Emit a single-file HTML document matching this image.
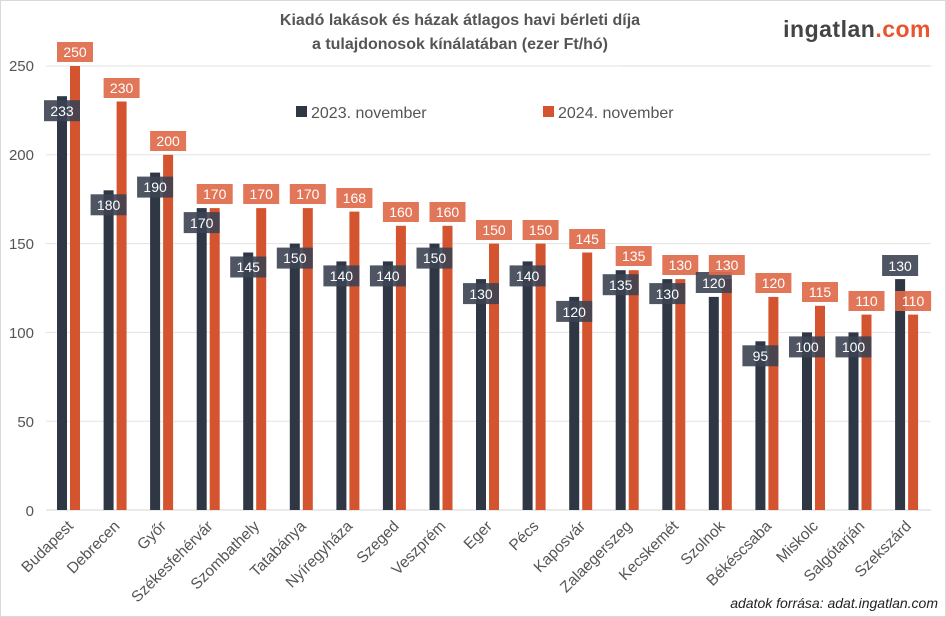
<!DOCTYPE html>
<html><head><meta charset="utf-8"><style>
html,body{margin:0;padding:0;background:#fff}
svg{display:block;font-family:"Liberation Sans",sans-serif}
</style></head><body>
<svg width="946" height="617" viewBox="0 0 946 617" xmlns="http://www.w3.org/2000/svg">
<rect x="0.5" y="0.5" width="945" height="616" fill="#fff" stroke="#d9d9d9"/>
<g stroke="#e3e3e3" stroke-width="1">
<line x1="46" x2="931" y1="66" y2="66"/><line x1="46" x2="931" y1="154.8" y2="154.8"/>
<line x1="46" x2="931" y1="243.6" y2="243.6"/><line x1="46" x2="931" y1="332.4" y2="332.4"/>
<line x1="46" x2="931" y1="421.2" y2="421.2"/><line x1="46" x2="931" y1="510" y2="510" stroke-width="1.5"/>
</g>
<g font-size="15" fill="#555" text-anchor="end">
<text x="34" y="71">250</text><text x="34" y="160">200</text><text x="34" y="249">150</text>
<text x="34" y="338">100</text><text x="34" y="427">50</text><text x="34" y="516">0</text>
</g>
<text x="460" y="25" font-size="16" font-weight="bold" fill="#555" text-anchor="middle">Kiadó lakások és házak átlagos havi bérleti díja</text>
<text x="460" y="49" font-size="16" font-weight="bold" fill="#555" text-anchor="middle">a tulajdonosok kínálatában (ezer Ft/hó)</text>
<text x="931" y="37" font-size="23" font-weight="bold" fill="#444" text-anchor="end" letter-spacing="0.5">ingatlan<tspan fill="#e8552f">.com</tspan></text>
<line x1="620" x2="931" y1="66" y2="66" stroke="#ddd"/>
<rect x="296" y="106" width="11" height="11" fill="#2f3644"/>
<text x="311" y="118" font-size="16" fill="#555">2023. november</text>
<rect x="543" y="106" width="11" height="11" fill="#d55430"/>
<text x="558" y="118" font-size="16" fill="#555">2024. november</text>
<text x="938" y="608" font-size="14" font-style="italic" fill="#222" text-anchor="end">adatok forrása: adat.ingatlan.com</text>

<defs><style>
.d{fill:#2f3644}.o{fill:#d55430}
.db{fill:#3c4252;fill-opacity:.9}.ob{fill:#e06a4a;fill-opacity:.92}
.lt{fill:#fff;font-size:14px;text-anchor:middle}
.cat{fill:#555;font-size:15.5px;text-anchor:end}
</style></defs>

<g transform="translate(62,0)"><rect class="d" x="-5" y="96.2" width="10" height="413.8"/><rect class="o" x="8" y="66" width="10" height="444"/>
<rect class="db" x="-18" y="100.2" width="36" height="21"/><text class="lt" x="0" y="116">233</text>
<rect class="ob" x="-5" y="42" width="36" height="20"/><text class="lt" x="13" y="57">250</text></g>

<g transform="translate(108.6,0)"><rect class="d" x="-5" y="190.3" width="10" height="319.7"/><rect class="o" x="8" y="101.5" width="10" height="408.5"/>
<rect class="db" x="-18" y="194.3" width="36" height="21"/><text class="lt" x="0" y="210">180</text>
<rect class="ob" x="-5" y="78" width="36" height="20"/><text class="lt" x="13" y="93">230</text></g>

<g transform="translate(155.1,0)"><rect class="d" x="-5" y="172.6" width="10" height="337.4"/><rect class="o" x="8" y="154.8" width="10" height="355.2"/>
<rect class="db" x="-18" y="176.6" width="36" height="21"/><text class="lt" x="0" y="192">190</text>
<rect class="ob" x="-5" y="131" width="36" height="20"/><text class="lt" x="13" y="146">200</text></g>

<g transform="translate(201.7,0)"><rect class="d" x="-5" y="208.1" width="10" height="301.9"/><rect class="o" x="8" y="208.1" width="10" height="301.9"/>
<rect class="db" x="-18" y="212.1" width="36" height="21"/><text class="lt" x="0" y="228">170</text>
<rect class="ob" x="-5" y="184" width="36" height="20"/><text class="lt" x="13" y="199">170</text></g>

<g transform="translate(248.2,0)"><rect class="d" x="-5" y="252.5" width="10" height="257.5"/><rect class="o" x="8" y="208.1" width="10" height="301.9"/>
<rect class="db" x="-18" y="256.5" width="36" height="21"/><text class="lt" x="0" y="272">145</text>
<rect class="ob" x="-5" y="184" width="36" height="20"/><text class="lt" x="13" y="199">170</text></g>

<g transform="translate(294.8,0)"><rect class="d" x="-5" y="243.6" width="10" height="266.4"/><rect class="o" x="8" y="208.1" width="10" height="301.9"/>
<rect class="db" x="-18" y="247.6" width="36" height="21"/><text class="lt" x="0" y="263">150</text>
<rect class="ob" x="-5" y="184" width="36" height="20"/><text class="lt" x="13" y="199">170</text></g>

<g transform="translate(341.4,0)"><rect class="d" x="-5" y="261.4" width="10" height="248.6"/><rect class="o" x="8" y="211.6" width="10" height="298.4"/>
<rect class="db" x="-18" y="265.4" width="36" height="21"/><text class="lt" x="0" y="281">140</text>
<rect class="ob" x="-5" y="188" width="36" height="20"/><text class="lt" x="13" y="203">168</text></g>

<g transform="translate(387.9,0)"><rect class="d" x="-5" y="261.4" width="10" height="248.6"/><rect class="o" x="8" y="225.8" width="10" height="284.2"/>
<rect class="db" x="-18" y="265.4" width="36" height="21"/><text class="lt" x="0" y="281">140</text>
<rect class="ob" x="-5" y="202" width="36" height="20"/><text class="lt" x="13" y="217">160</text></g>

<g transform="translate(434.5,0)"><rect class="d" x="-5" y="243.6" width="10" height="266.4"/><rect class="o" x="8" y="225.8" width="10" height="284.2"/>
<rect class="db" x="-18" y="247.6" width="36" height="21"/><text class="lt" x="0" y="263">150</text>
<rect class="ob" x="-5" y="202" width="36" height="20"/><text class="lt" x="13" y="217">160</text></g>

<g transform="translate(481,0)"><rect class="d" x="-5" y="279.1" width="10" height="230.9"/><rect class="o" x="8" y="243.6" width="10" height="266.4"/>
<rect class="db" x="-18" y="283.1" width="36" height="21"/><text class="lt" x="0" y="299">130</text>
<rect class="ob" x="-5" y="220" width="36" height="20"/><text class="lt" x="13" y="235">150</text></g>

<g transform="translate(527.6,0)"><rect class="d" x="-5" y="261.4" width="10" height="248.6"/><rect class="o" x="8" y="243.6" width="10" height="266.4"/>
<rect class="db" x="-18" y="265.4" width="36" height="21"/><text class="lt" x="0" y="281">140</text>
<rect class="ob" x="-5" y="220" width="36" height="20"/><text class="lt" x="13" y="235">150</text></g>

<g transform="translate(574.2,0)"><rect class="d" x="-5" y="296.9" width="10" height="213.1"/><rect class="o" x="8" y="252.5" width="10" height="257.5"/>
<rect class="db" x="-18" y="300.9" width="36" height="21"/><text class="lt" x="0" y="317">120</text>
<rect class="ob" x="-5" y="229" width="36" height="20"/><text class="lt" x="13" y="244">145</text></g>

<g transform="translate(620.7,0)"><rect class="d" x="-5" y="270.2" width="10" height="239.8"/><rect class="o" x="8" y="270.2" width="10" height="239.8"/>
<rect class="db" x="-18" y="274.2" width="36" height="21"/><text class="lt" x="0" y="290">135</text>
<rect class="ob" x="-5" y="246" width="36" height="20"/><text class="lt" x="13" y="261">135</text></g>

<g transform="translate(667.3,0)"><rect class="d" x="-5" y="279.1" width="10" height="230.9"/><rect class="o" x="8" y="279.1" width="10" height="230.9"/>
<rect class="db" x="-18" y="283.1" width="36" height="21"/><text class="lt" x="0" y="299">130</text>
<rect class="ob" x="-5" y="255" width="36" height="20"/><text class="lt" x="13" y="270">130</text></g>

<g transform="translate(713.8,0)"><rect class="d" x="-5" y="296.9" width="10" height="213.1"/><rect class="o" x="8" y="279.1" width="10" height="230.9"/>
<rect class="db" x="-18" y="272" width="36" height="21"/><text class="lt" x="0" y="288">120</text>
<rect class="ob" x="-5" y="255" width="36" height="20"/><text class="lt" x="13" y="270">130</text></g>

<g transform="translate(760.4,0)"><rect class="d" x="-5" y="341.3" width="10" height="168.7"/><rect class="o" x="8" y="296.9" width="10" height="213.1"/>
<rect class="db" x="-18" y="345.3" width="36" height="21"/><text class="lt" x="0" y="361">95</text>
<rect class="ob" x="-5" y="273" width="36" height="20"/><text class="lt" x="13" y="288">120</text></g>

<g transform="translate(807,0)"><rect class="d" x="-5" y="332.4" width="10" height="177.6"/><rect class="o" x="8" y="305.8" width="10" height="204.2"/>
<rect class="db" x="-18" y="336.4" width="36" height="21"/><text class="lt" x="0" y="352">100</text>
<rect class="ob" x="-5" y="282" width="36" height="20"/><text class="lt" x="13" y="297">115</text></g>

<g transform="translate(853.5,0)"><rect class="d" x="-5" y="332.4" width="10" height="177.6"/><rect class="o" x="8" y="314.6" width="10" height="195.4"/>
<rect class="db" x="-18" y="336.4" width="36" height="21"/><text class="lt" x="0" y="352">100</text>
<rect class="ob" x="-5" y="291" width="36" height="20"/><text class="lt" x="13" y="306">110</text></g>

<g transform="translate(900.1,0)"><rect class="d" x="-5" y="279.1" width="10" height="230.9"/><rect class="o" x="8" y="314.6" width="10" height="195.4"/>
<rect class="db" x="-18" y="255" width="36" height="21"/><text class="lt" x="0" y="271">130</text>
<rect class="ob" x="-5" y="291" width="36" height="20"/><text class="lt" x="13" y="306">110</text></g>

<g>
<text class="cat" transform="translate(74,527) rotate(-45)">Budapest</text>
<text class="cat" transform="translate(120.6,527) rotate(-45)">Debrecen</text>
<text class="cat" transform="translate(167.1,527) rotate(-45)">Győr</text>
<text class="cat" transform="translate(213.7,527) rotate(-45)">Székesfehérvár</text>
<text class="cat" transform="translate(260.2,527) rotate(-45)">Szombathely</text>
<text class="cat" transform="translate(306.8,527) rotate(-45)">Tatabánya</text>
<text class="cat" transform="translate(353.4,527) rotate(-45)">Nyíregyháza</text>
<text class="cat" transform="translate(399.9,527) rotate(-45)">Szeged</text>
<text class="cat" transform="translate(446.5,527) rotate(-45)">Veszprém</text>
<text class="cat" transform="translate(493,527) rotate(-45)">Eger</text>
<text class="cat" transform="translate(539.6,527) rotate(-45)">Pécs</text>
<text class="cat" transform="translate(586.2,527) rotate(-45)">Kaposvár</text>
<text class="cat" transform="translate(632.7,527) rotate(-45)">Zalaegerszeg</text>
<text class="cat" transform="translate(679.3,527) rotate(-45)">Kecskemét</text>
<text class="cat" transform="translate(725.8,527) rotate(-45)">Szolnok</text>
<text class="cat" transform="translate(772.4,527) rotate(-45)">Békéscsaba</text>
<text class="cat" transform="translate(819,527) rotate(-45)">Miskolc</text>
<text class="cat" transform="translate(865.5,527) rotate(-45)">Salgótarján</text>
<text class="cat" transform="translate(912.1,527) rotate(-45)">Szekszárd</text>
</g>
</svg>
</body></html>
